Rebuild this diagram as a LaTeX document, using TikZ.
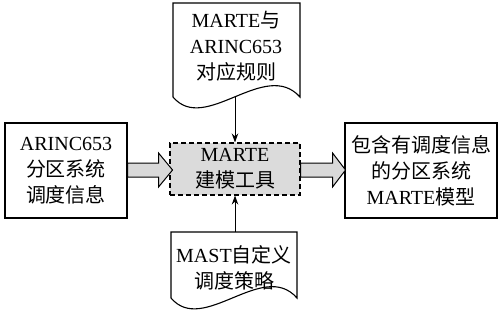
\documentclass[tikz,border=0pt]{standalone}
\usepackage{fontspec}
\setmainfont{Liberation Serif}
\newfontfamily\cjk{Noto Sans CJK SC}
\usetikzlibrary{arrows.meta}
\begin{document}
\begin{tikzpicture}[x=1pt,y=-1pt,line width=1.1pt,
  txt/.style={font=\fontsize{20}{26}\selectfont,align=center,inner sep=0pt},
  boxn/.style={draw,txt,inner sep=0pt},
  blockarrow/.style={draw,fill=gray!30,line width=1pt,line join=miter},
  conn/.style={-{Stealth[length=9pt,width=6.5pt]},line width=1pt}]
\useasboundingbox (0,0) rectangle (501,322);
% boxes
\node[boxn,minimum width=122pt,minimum height=95pt] (L) at (66,170.5) {ARINC653\\{\cjk 分区系统}\\{\cjk 调度信息}};
\node[boxn,dashed,dash pattern=on 5pt off 3pt,fill=gray!28,minimum width=130pt,minimum height=52pt] (M) at (235,169) {MARTE\\{\cjk 建模工具}};
\node[boxn,minimum width=152pt,minimum height=95pt] (R) at (421,170.5) {{\cjk 包含有调度信息}\\{\cjk 的分区系统}\\MARTE{\cjk 模型}};
% top document
\draw (173,97) -- (173,3) -- (300,3) -- (300,97)
  .. controls (265,58) and (205,135) .. (173,97);
\node[txt] (T) at (236,46) {MARTE{\cjk 与}\\ARINC653\\{\cjk 对应规则}};
\coordinate (tdoc) at (235,97);
% bottom document
\draw (171,298) -- (171,232) -- (297,232) -- (297,298)
  .. controls (263,259) and (203,336) .. (171,298);
\node[txt] (B) at (234,268) {MAST{\cjk 自定义}\\{\cjk 调度策略}};
\coordinate (bdoc) at (235,232);
% connectors
\draw[conn] (tdoc) -- (M.north);
\draw[conn] (bdoc) -- (M.south);
\draw[blockarrow] (L.east) ++(0,-7.5) -- ++(31,0) -- ++(0,-10) -- ++(14,17) -- ++(-14,17) -- ++(0,-10) -- ++(-31,0) -- cycle;
\draw[blockarrow] (M.east) ++(0,-6) -- ++(32,0) -- ++(0,-10) -- ++(13,17) -- ++(-13,17) -- ++(0,-10) -- ++(-32,0) -- cycle;
\end{tikzpicture}
\end{document}
